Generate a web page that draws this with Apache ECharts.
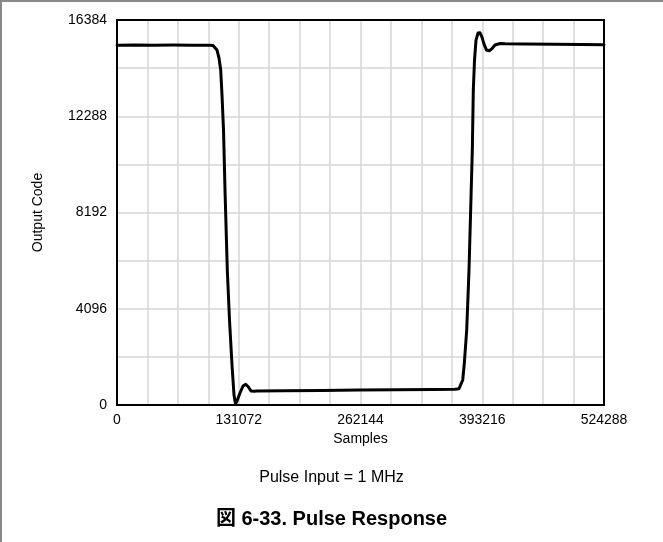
<!DOCTYPE html>
<html>
<head>
<meta charset="utf-8">
<script src="https://cdn.jsdelivr.net/npm/echarts@6/dist/echarts.min.js"></script>
<style>
  html, body { margin: 0; padding: 0; background: #fff; }
  #chart { width: 663px; height: 542px; }
</style>
</head>
<body>
<div id="chart"></div>
<script>
// Pulse response capture: output code versus sample index
const sampleIndex = [0, 20000, 40000, 60000, 80000, 100000, 103354, 105507, 107660, 109813,
  111643, 113043, 114658, 116273, 118749, 121118, 123809, 125962, 127577, 129192,
  132421, 135651, 138558, 141034, 144264, 147494, 150724, 180000, 220000, 260000,
  300000, 340000, 363891, 368198, 370351, 372181, 373903, 376487, 378963, 382516,
  383592, 384884, 386499, 388652, 390806, 392959, 395112, 397804, 400818, 403725,
  406955, 412338, 417721, 440000, 470000, 500000, 524288];
const outputCode = [15310, 15318, 15305, 15315, 15310, 15305, 15297, 15275, 15105, 14765,
  14254, 13190, 11701, 9148, 5744, 3617, 1702, 425, 43, 170,
  510, 808, 880, 787, 600, 590, 596, 605, 620, 635,
  650, 660, 672, 694, 745, 1064, 1774, 3191, 5744, 10850,
  13403, 14680, 15531, 15829, 15841, 15658, 15360, 15105, 15075, 15169,
  15318, 15382, 15369, 15360, 15350, 15340, 15330];

const xTicks = [0, 131072, 262144, 393216, 524288];
const yTicks = [0, 4096, 8192, 12288, 16384];

const chart = echarts.init(document.getElementById('chart'));
const font = '"Liberation Sans", Arial, sans-serif';
const plot = { left: 117, top: 20, width: 487, height: 385 };
const gridColor = '#d6d6d6';

chart.setOption({
  animation: false,
  backgroundColor: '#fff',
  grid: { left: plot.left, top: plot.top, width: plot.width, height: plot.height, show: false },
  title: [
    { text: 'Pulse Input = 1 MHz', left: 'center', top: 465,
      textStyle: { fontFamily: font, fontSize: 16, fontWeight: 'normal', color: '#000' } },
    { text: '図 6-33. Pulse Response', left: 'center', top: 504,
      textStyle: { fontFamily: '"Liberation Sans", "Noto Sans CJK JP", sans-serif', fontSize: 20, fontWeight: 'bold', color: '#000' } }
  ],
  xAxis: {
    type: 'value', min: xTicks[0], max: xTicks[xTicks.length - 1], interval: xTicks[1] - xTicks[0],
    name: 'Samples', nameLocation: 'middle', nameGap: 25,
    nameTextStyle: { fontFamily: font, fontSize: 14, color: '#000' },
    axisLine: { show: false }, axisTick: { show: false },
    axisLabel: { fontFamily: font, fontSize: 14, color: '#000', margin: 8, formatter: v => String(v) },
    splitLine: { show: true, lineStyle: { color: gridColor, width: 1.5 } },
    minorTick: { show: false, splitNumber: 4 },
    minorSplitLine: { show: true, lineStyle: { color: gridColor, width: 1.5 } }
  },
  yAxis: {
    type: 'value', min: yTicks[0], max: yTicks[yTicks.length - 1], interval: yTicks[1] - yTicks[0],
    name: 'Output Code', nameLocation: 'middle', nameGap: 72, nameRotate: 90,
    nameTextStyle: { fontFamily: font, fontSize: 14, color: '#000' },
    axisLine: { show: false }, axisTick: { show: false },
    axisLabel: { fontFamily: font, fontSize: 14, color: '#000', margin: 10, formatter: v => String(v) },
    splitLine: { show: true, lineStyle: { color: gridColor, width: 1.5 } },
    minorTick: { show: false, splitNumber: 2 },
    minorSplitLine: { show: true, lineStyle: { color: gridColor, width: 1.5 } }
  },
  series: [{
    type: 'line', showSymbol: false, smooth: false,
    data: sampleIndex.map((x, i) => [x, outputCode[i]]),
    lineStyle: { color: '#000', width: 3, join: 'round', cap: 'round' },
    z: 5
  }],
  graphic: [
    // plot frame drawn above the grid lines
    { type: 'rect', z: 100, shape: { x: plot.left, y: plot.top, width: plot.width, height: plot.height },
      style: { fill: 'none', stroke: '#000', lineWidth: 2 } },
    // page edge lines
    { type: 'line', z: 100, shape: { x1: 0, y1: 1, x2: 663, y2: 1 }, style: { stroke: '#888', lineWidth: 2 } },
    { type: 'line', z: 100, shape: { x1: 1, y1: 0, x2: 1, y2: 542 }, style: { stroke: '#888', lineWidth: 2 } }
  ]
});
</script>
</body>
</html>
